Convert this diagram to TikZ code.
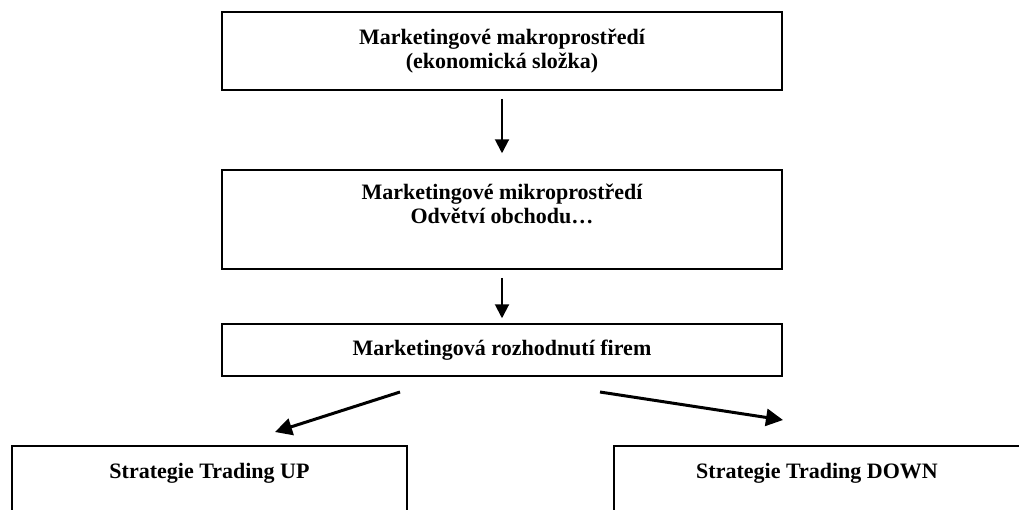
\documentclass[tikz,border=0pt]{standalone}
\usepackage{fontspec}
\setmainfont{Liberation Serif}
\usetikzlibrary{arrows.meta}

\tikzset{
    box/.style={draw, line width=1.5pt, minimum width=560pt, inner sep=0pt, align=center,
        font=\fontsize{22}{24}\selectfont\bfseries},
    arr/.style={-{Triangle[width=14pt,length=14pt]}, line width=2pt},
    slant/.style={-{Triangle[width=17pt,length=17pt]}, line width=3pt},
}

\begin{document}
\begin{tikzpicture}[x=1pt,y=-1pt]
    \useasboundingbox (0,0) rectangle (1019,509);

    % nodes (boxes)
    \node[box, minimum height=78pt] (makro) at (502,51) {Marketingové makroprostředí\\(ekonomická složka)};
    \node[box, minimum height=99pt] (mikro) at (502,219.5) {Marketingové mikroprostředí\\Odvětví obchodu…\\\strut};
    \node[box, minimum height=52pt] (rozh) at (502,350) {Marketingová rozhodnutí firem};
    \node[box, minimum width=395pt, minimum height=80pt] (up) at (209.5,486) {Strategie Trading UP\\\strut};
    \node[box, minimum width=406pt, minimum height=80pt] (down) at (817,486) {Strategie Trading DOWN\\\strut};

    % free ends of the slanted arrows
    \coordinate (upS) at (400,392);
    \coordinate (upE) at (275,432);
    \coordinate (downS) at (600,392);
    \coordinate (downE) at (783,420);

    % edges
    \draw[arr] ([yshift=-8pt]makro.south) -- ([yshift=16pt]mikro.north); % makro -> mikro
    \draw[arr] ([yshift=-8pt]mikro.south) -- ([yshift=5pt]rozh.north); % mikro -> rozh
    \draw[slant] (upS) -- (upE); % rozh -> up
    \draw[slant] (downS) -- (downE); % rozh -> down

\end{tikzpicture}
\end{document}
